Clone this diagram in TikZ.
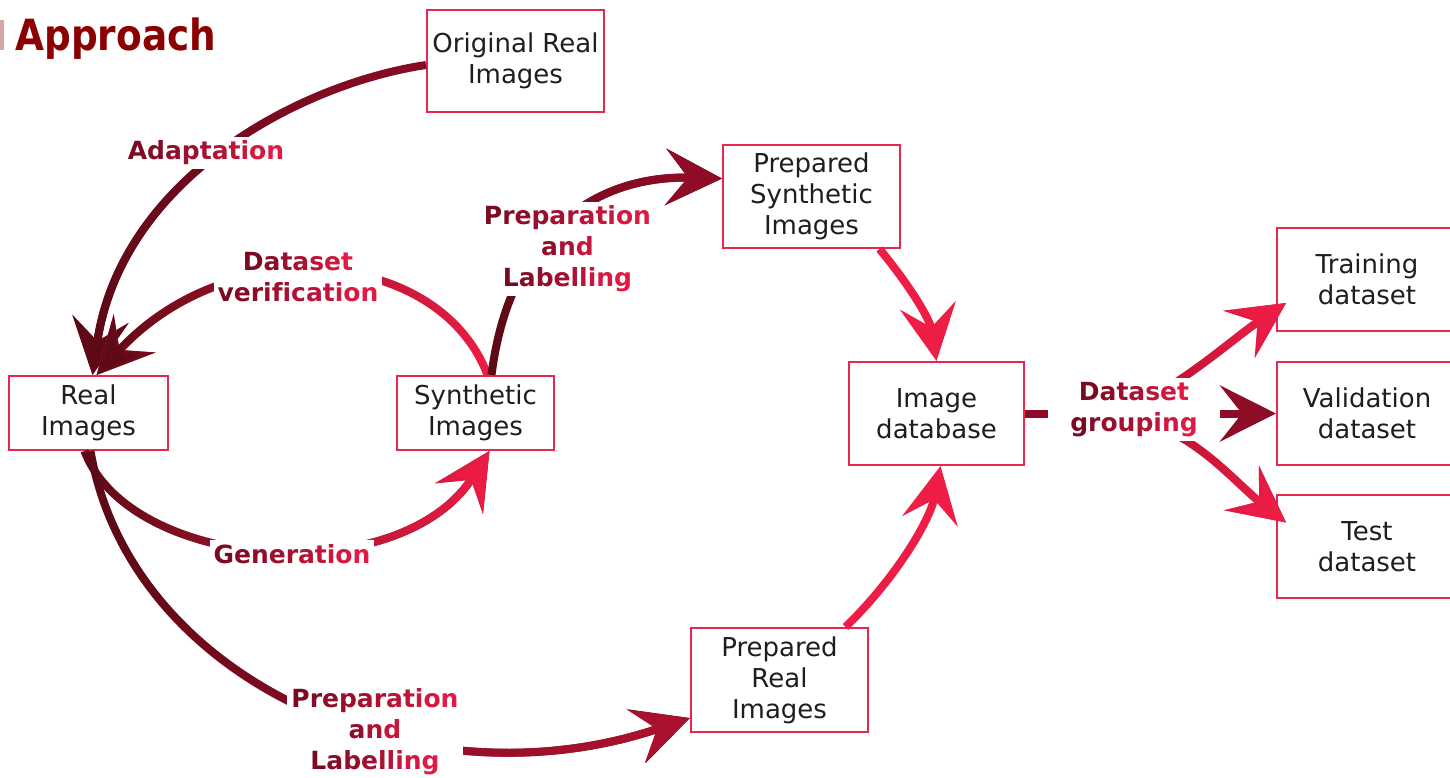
\documentclass[tikz,border=0pt]{standalone}
\usepackage{fontspec}
\setmainfont{DejaVu Sans}
\newfontfamily\titlefont{DejaVu Sans}[FakeStretch=0.87]
\usetikzlibrary{arrows.meta,fadings}
\definecolor{boxc}{HTML}{E8274E}
\definecolor{dk}{HTML}{5E0A16}
\definecolor{md}{HTML}{8E0C25}
\definecolor{br}{HTML}{EE1D46}
\definecolor{lblA}{HTML}{7A0A22}
\definecolor{lblB}{HTML}{E01A44}
\definecolor{ttl}{HTML}{8B0000}
\definecolor{txt}{HTML}{1E1E1E}
\tikzfading[name=gfade, left color=transparent!100, right color=transparent!0]
\newcommand\boxfont{\fontsize{13}{15.5}\selectfont}
\newcommand\lblfont{\bfseries\fontsize{12.5}{15.5}\selectfont}
\pgfdeclarelayer{fg}
\pgfsetlayers{main,fg}
\ExplSyntaxOn
\int_new:N \l_gw_n_int
\int_new:N \l_gw_i_int
\tl_new:N \l_gw_col_tl
\NewDocumentCommand \gw { O{0} O{100} m }
 {
  \int_set:Nn \l_gw_n_int { \tl_count:n {#3} }
  \int_zero:N \l_gw_i_int
  \tl_map_inline:nn {#3}
   {
    \int_incr:N \l_gw_i_int
    \tl_set:Nx \l_gw_col_tl { lblB ! \int_eval:n { #1 + (#2 - #1) * (\l_gw_i_int - 1) / \int_max:nn {1} {\l_gw_n_int - 1} } ! lblA }
    \exp_args:NV \textcolor \l_gw_col_tl {##1}
   }
 }
\ExplSyntaxOff
\begin{document}
\begin{tikzpicture}[x=0.5pt,y=-0.5pt,
  box/.style={draw=boxc, line width=1pt, fill=white, align=center, text=txt, font=\boxfont, inner sep=0pt},
  conn/.style={line width=4pt, -{Stealth[length=28pt,width=28pt,inset=11pt]}},
  grad/.style n args={3}{conn, draw=#1, postaction={draw=#2, path fading=gfade, fading angle=#3}},
  lbl/.style={fill=white, inner sep=2pt, align=center, font=\lblfont}]
\useasboundingbox (0,0) rectangle (1450,777);

% title
\fill[ttl!35] (0,20) rectangle (4,50);
\node[anchor=base west, inner sep=0pt, text=ttl, font=\titlefont\bfseries\fontsize{21.5}{24}\selectfont] (title) at (15,50) {Approach};

% boxes
\node[box, minimum width=88.5pt, minimum height=51pt] (orig) at (515.5,61) {Original Real\\Images};
\node[box, minimum width=79.5pt, minimum height=37pt] (real) at (88.5,413) {Real\\Images};
\node[box, minimum width=78.5pt, minimum height=37pt] (synth) at (475.5,413) {Synthetic\\Images};
\node[box, minimum width=88.5pt, minimum height=51.5pt] (prepsyn) at (811.5,196.5) {Prepared\\Synthetic\\Images};
\node[box, minimum width=87.5pt, minimum height=51.5pt] (imgdb) at (936.5,413.5) {Image\\database};
\node[box, minimum width=88.5pt, minimum height=52pt] (prepreal) at (779.5,680) {Prepared\\Real\\Images};
\node[box, minimum width=90pt, minimum height=51.5pt] (train) at (1367,279.5) {Training\\dataset};
\node[box, minimum width=90pt, minimum height=51.5pt] (valid) at (1367,413.5) {Validation\\dataset};
\node[box, minimum width=90pt, minimum height=51.5pt] (test) at (1367,546.5) {Test\\dataset};

% labels (foreground)
\begin{pgfonlayer}{fg}
\node[lbl] (ladapt) at (206,153) {\gw{Adaptation}};
\node[lbl] (lverif) at (298,277.5) {\gw{Dataset}\\\gw{verification}};
\node[lbl] (lgen) at (292,554) {\gw{Generation}};
\node[lbl] (lpls) at (567.5,249) {\gw{Preparation}\\\gw[25][75]{and}\\\gw{Labelling}};
\node[lbl] (lplr) at (375,732) {\gw{Preparation}\\\gw[25][75]{and}\\\gw{Labelling}};
\node[lbl] (grp) at (1134,409.5) {\gw{Dataset}\\\gw{grouping}};
\end{pgfonlayer}

% connectors
\draw[grad={md!80!dk}{dk}{-137}] ([yshift=-2pt]orig.west) .. controls +(-127,19) and +(28,-196) .. ([xshift=2pt]real.north);
\draw[grad={br}{dk}{180}] ([xshift=6pt]synth.north) .. controls +(-47.5,-126) and +(133.5,-146) .. ([xshift=4pt]real.north);
\draw[grad={dk}{br}{0}] ([xshift=-2pt]real.south) .. controls +(45.5,120) and +(-89.5,140) .. ([xshift=7pt]synth.south);
\draw[grad={dk}{md}{41}] ([xshift=8pt]synth.north) .. controls +(18.5,-146) and +(-123,-3.5) .. ([yshift=9pt]prepsyn.west);
\draw[conn, draw=br] ([xshift=34pt]prepsyn.south) .. controls +(30.5,37) and +(-6.5,-42) .. (imgdb.north);
\draw[conn, draw=br] ([xshift=33pt]prepreal.north) .. controls +(49.5,-48) and +(-10.5,55) .. ([xshift=2pt]imgdb.south);
\draw[grad={dk}{md!70!br}{-24}] ([xshift=1pt]real.south) .. controls +(39.5,230) and +(-271,92) .. ([yshift=-19pt]prepreal.west);
\draw[line width=4pt, draw=md, shorten >=9pt] (imgdb.east) -- (grp.west |- imgdb.east);
\draw[grad={md!45!br}{br}{35}] ([xshift=15pt,yshift=10pt]grp.center) .. controls +(35,-20) and +(-45,30) .. ([xshift=5pt,yshift=-11.75pt]train.west);
\draw[conn, draw=md, shorten <=9pt] (grp.east |- valid.west) -- (valid.west);
\draw[grad={md!45!br}{br}{-36}] ([xshift=15pt,yshift=-10pt]grp.center) .. controls +(40,15) and +(-45,-35) .. ([xshift=5pt,yshift=12pt]test.west);
\end{tikzpicture}
\end{document}
